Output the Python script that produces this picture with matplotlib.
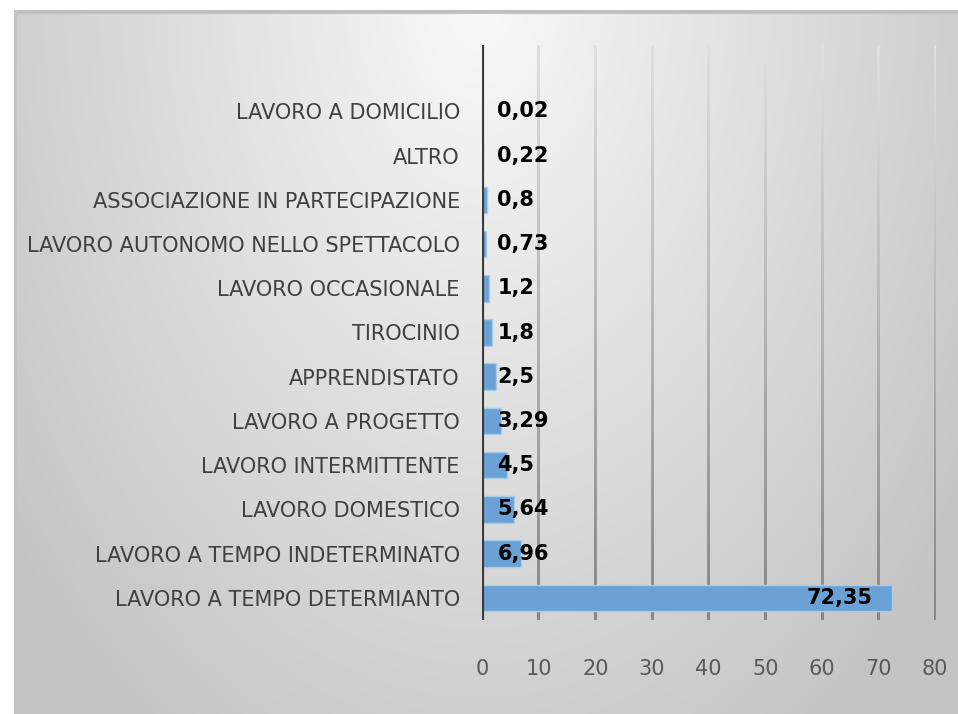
import numpy as np
import matplotlib.pyplot as plt

categories = ["LAVORO A TEMPO DETERMIANTO", "LAVORO A TEMPO INDETERMINATO",
              "LAVORO DOMESTICO", "LAVORO INTERMITTENTE", "LAVORO A PROGETTO",
              "APPRENDISTATO", "TIROCINIO", "LAVORO OCCASIONALE",
              "LAVORO AUTONOMO NELLO SPETTACOLO", "ASSOCIAZIONE IN PARTECIPAZIONE",
              "ALTRO", "LAVORO A DOMICILIO"]
values = [72.35, 6.96, 5.64, 4.5, 3.29, 2.5, 1.8, 1.2, 0.73, 0.8, 0.22, 0.02]
xticks = [0, 10, 20, 30, 40, 50, 60, 70, 80]

plt.rcParams['font.family'] = ['DejaVu Sans Condensed', 'DejaVu Sans']

W, H = 958, 714
fig = plt.figure(figsize=(W / 100, H / 100), dpi=100)
fig.patch.set_facecolor('white')

# gradient background panel
bg = fig.add_axes([14 / W, 0, 1 - 14 / W, (H - 10) / H])
gx, gy = np.meshgrid(np.arange(14, W), np.arange(10, H))
d = np.sqrt(((gx - 480) / 560.0) ** 2 + ((gy - 0) / 850.0) ** 2)
shade = 249 - 50 * np.clip(d, 0, 1.05)
bg.imshow(np.dstack([shade] * 3) / 255.0, aspect='auto', interpolation='bilinear')
bg.axhline(0, color='#bfbfbf', lw=3.5)
bg.axvline(0, color='#c4c4c4', lw=2)
bg.axis('off')

ax = fig.add_axes([482 / W, 1 - 620 / H, (935 - 482) / W, (620 - 45) / H])
ax.patch.set_alpha(0)
y = np.arange(len(categories))
ax.barh(y, values, height=0.6, color='#6aa2d6', edgecolor='#a9cbea', linewidth=1, zorder=3)
ax.set_xlim(0, 80)
ax.set_ylim(-0.5, len(categories) + 0.5)
ax.set_xticks(xticks)
ax.set_yticks(y)
ax.set_yticklabels(categories, fontsize=15, color='#404040')
ax.set_xticklabels([str(t) for t in xticks], fontsize=15, color='#595959')
ax.tick_params(axis='x', length=0, pad=28)
ax.tick_params(axis='y', length=0, pad=16)
for s in ax.spines.values():
    s.set_visible(False)

# gridlines fading from light at the top to darker at the bottom
y0, y1 = ax.get_ylim()
fade = np.linspace(0.53, 0.88, 200)[:, None]
for t in xticks[1:]:
    ax.imshow(np.dstack([fade] * 3), extent=(t - 0.22, t + 0.22, y0, y1),
              origin='lower', aspect='auto', interpolation='bilinear', zorder=1)
ax.set_xlim(0, 80)
ax.set_ylim(y0, y1)
ax.axvline(0, color='#3a3a3a', lw=3, zorder=4)

for yi, v in zip(y, values):
    txt = str(v).replace('.', ',')
    if v > 50:
        ax.annotate(txt, (v, yi), xytext=(-14, 0), textcoords='offset points',
                    ha='right', va='center', fontsize=15, fontweight='bold', color='black', zorder=5)
    else:
        ax.annotate(txt, (0, yi), xytext=(11, 0), textcoords='offset points',
                    ha='left', va='center', fontsize=15, fontweight='bold', color='black', zorder=5)

fig.savefig('out.png', dpi=100)
